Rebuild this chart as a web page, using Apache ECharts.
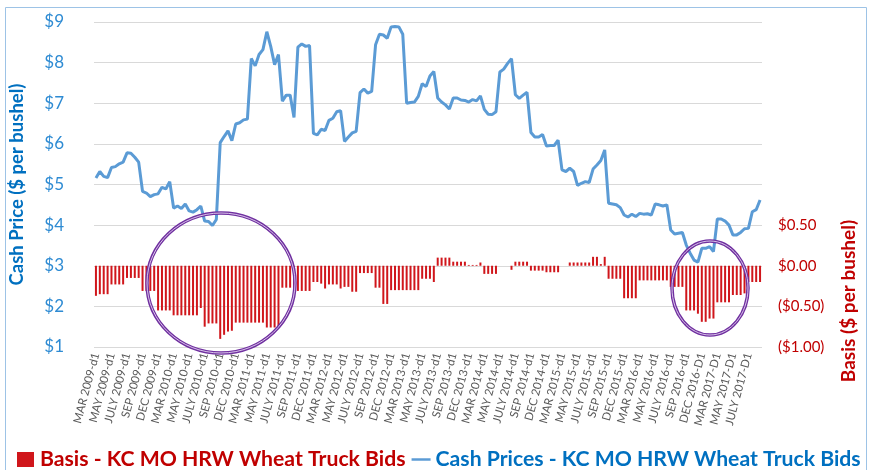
<!DOCTYPE html>
<html><head><meta charset="utf-8">
<script src="https://cdn.jsdelivr.net/npm/echarts@6/dist/echarts.min.js"></script>
<style>html,body{margin:0;padding:0;background:#fff}#c{width:873px;height:470px}</style>
</head><body><div id="c"></div>
<script>
const tickLabels = [
 'MAR 2009-d1','MAY 2009-d1','JULY 2009-d1','SEP 2009-d1','DEC 2009-d1',
 'MAR 2010-d1','MAY 2010-d1','JULY 2010-d1','SEP 2010-d1','DEC 2010-d1',
 'MAR 2011-d1','MAY 2011-d1','JULY 2011-d1','SEP 2011-d1','DEC 2011-d1',
 'MAR 2012-d1','MAY 2012-d1','JULY 2012-d1','SEP 2012-d1','DEC 2012-d1',
 'MAR 2013-d1','MAY 2013-d1','JULY 2013-d1','SEP 2013-d1','DEC 2013-d1',
 'MAR 2014-d1','MAY 2014-d1','JULY 2014-d1','SEP 2014-d1','DEC 2014-d1',
 'MAR 2015-d1','MAY 2015-d1','JULY 2015-d1','SEP 2015-d1','DEC 2015-d1',
 'MAR 2016-d1','MAY 2016-d1','JULY 2016-d1','SEP 2016-d1','DEC 2016-D1',
 'MAR 2017-D1','MAY 2017-D1','JULY 2017-D1'
];
const cashPrices = [
 5.16,5.32,5.20,5.17, 5.42,5.44,5.51,5.55, 5.78,5.77,5.67,5.55, 4.83,4.79,4.70,4.75,
 4.77,4.93,4.89,5.07, 4.42,4.47,4.41,4.52, 4.35,4.32,4.38,4.47, 4.10,4.09,3.99,4.14,
 6.03,6.18,6.32,6.08, 6.49,6.52,6.59,6.61, 8.10,7.92,8.20,8.32, 8.76,8.40,7.95,8.20,
 7.05,7.20,7.20,6.65, 8.38,8.46,8.40,8.42, 6.26,6.22,6.36,6.33, 6.58,6.63,6.79,6.82,
 6.06,6.17,6.27,6.31, 7.26,7.35,7.25,7.29, 8.44,8.70,8.68,8.60, 8.88,8.89,8.88,8.70,
 7.00,7.02,7.03,7.17, 7.48,7.41,7.67,7.78, 7.13,7.03,6.96,6.86, 7.13,7.13,7.08,7.07,
 7.03,7.09,7.06,7.18, 6.85,6.73,6.72,6.79, 7.77,7.84,7.98,8.10, 7.21,7.12,7.20,7.27,
 6.28,6.17,6.17,6.23, 5.95,5.96,5.96,6.09, 5.36,5.32,5.40,5.32, 4.98,5.03,5.07,5.05,
 5.38,5.48,5.59,5.85, 4.54,4.52,4.50,4.43, 4.25,4.20,4.27,4.21, 4.29,4.27,4.28,4.25,
 4.52,4.50,4.47,4.50, 3.88,3.78,3.80,3.82, 3.51,3.31,3.14,3.09, 3.43,3.43,3.47,3.35,
 4.15,4.15,4.10,4.00, 3.76,3.76,3.82,3.91, 3.92,4.33,4.38,4.62
];
const basis = [
 -0.37,-0.35,-0.35,-0.35, -0.23,-0.23,-0.23,-0.23, -0.15,-0.15,-0.15,-0.15, -0.31,-0.31,-0.31,-0.31,
 -0.55,-0.55,-0.55,-0.55, -0.61,-0.61,-0.61,-0.61, -0.61,-0.61,-0.61,-0.52, -0.75,-0.71,-0.71,-0.71,
 -0.90,-0.85,-0.81,-0.80, -0.70,-0.70,-0.70,-0.70, -0.70,-0.70,-0.70,-0.70, -0.76,-0.76,-0.76,-0.76,
 -0.27,-0.27,-0.27,-0.31, -0.31,-0.31,-0.31,-0.31, -0.20,-0.20,-0.22,-0.28, -0.23,-0.23,-0.23,-0.28,
 -0.26,-0.26,-0.32,-0.32, -0.09,-0.09,-0.09,-0.09, -0.27,-0.27,-0.47,-0.47, -0.30,-0.30,-0.30,-0.30,
 -0.30,-0.30,-0.30,-0.30, -0.16,-0.16,-0.16,-0.20, 0.10,0.10,0.10,0.10, 0.05,0.05,0.05,0.05,
 0.01,0.01,0.01,0.04, -0.10,-0.10,-0.10,-0.10, 0,0,0,-0.05, 0.05,0.05,0.05,0.05,
 -0.06,-0.06,-0.06,-0.06, -0.08,-0.08,-0.08,-0.08, 0,0,0.04,0.04, 0.04,0.04,0.04,0.04,
 0.11,0.11,0.02,0.11, -0.16,-0.16,-0.16,-0.16, -0.40,-0.40,-0.40,-0.40, -0.18,-0.18,-0.18,-0.18,
 -0.18,-0.18,-0.18,-0.18, -0.26,-0.26,-0.26,-0.26, -0.55,-0.55,-0.55,-0.59, -0.69,-0.69,-0.65,-0.65,
 -0.45,-0.45,-0.45,-0.45, -0.36,-0.36,-0.36,-0.34, -0.20,-0.20,-0.20,-0.20
];
const basisName = 'Basis - KC MO HRW Wheat Truck Bids';
const cashName = 'Cash Prices - KC MO HRW Wheat Truck Bids';

const categories = [];
tickLabels.forEach(t => { categories.push(t); for (let k = 2; k <= 4; k++) categories.push(t + '#' + k); });

const FONT = 'Lato, "Liberation Sans", sans-serif';
const chart = echarts.init(document.getElementById('c'));
chart.setOption({
  animation: false,
  textStyle: { fontFamily: FONT },
  grid: { left: 93, right: 111, top: 22, bottom: 123 },
  legend: {
    left: 12, top: 444, itemGap: 6, itemWidth: 19, itemHeight: 15,
    textStyle: { fontFamily: FONT, fontSize: 21.2, fontWeight: 'bold' },
    data: [
      { name: basisName, icon: 'path://M0,0H17V15H0Z', textStyle: { color: '#C00000' } },
      { name: cashName, icon: 'path://M0,0H23V3H0Z', textStyle: { color: '#0070C0' } }
    ]
  },
  xAxis: {
    type: 'category', data: categories, boundaryGap: true,
    axisLine: { show: false }, axisTick: { show: false },
    axisLabel: { interval: 3, rotate: 75, fontSize: 11.5, color: '#595959', margin: 6, fontFamily: FONT,
      formatter: v => v.indexOf('#') >= 0 ? '' : v }
  },
  yAxis: [
    { type: 'value', min: 1, max: 9, interval: 1,
      name: 'Cash Price ($ per bushel)', nameLocation: 'middle', nameGap: 67,
      nameTextStyle: { color: '#0070C0', fontSize: 18.5, fontWeight: 'bold', fontFamily: FONT },
      axisLine: { show: false }, axisTick: { show: false },
      axisLabel: { formatter: v => '$' + v, color: '#2E8BD3', fontSize: 17, margin: 30, fontFamily: FONT },
      splitLine: { lineStyle: { color: '#D9D9D9', width: 1 } } },
    { type: 'value', min: -1, max: 3, interval: 0.5, position: 'right',
      axisLine: { show: false }, axisTick: { show: false }, splitLine: { show: false },
      axisLabel: { color: '#C00000', fontSize: 15, margin: 16, fontFamily: FONT,
        formatter: v => v > 0.51 ? '' : (v < 0 ? '($' + Math.abs(v).toFixed(2) + ')' : '$' + v.toFixed(2)) } }
  ],
  series: [
    { name: basisName, type: 'bar', yAxisIndex: 1, data: basis, barWidth: 2,
      itemStyle: { color: '#D0161B' }, z: 2 },
    { name: cashName, type: 'line', yAxisIndex: 0, data: cashPrices, showSymbol: false,
      lineStyle: { color: '#5B9BD5', width: 3 }, itemStyle: { color: '#5B9BD5' }, z: 3 }
  ],
  graphic: [
    { type: 'rect', silent: true, shape: { x: 5.5, y: 7.5, width: 861, height: 480 },
      style: { fill: 'none', stroke: '#9DC3E6', lineWidth: 1 } },
    { type: 'text', silent: true, x: 849, y: 301, rotation: Math.PI / 2,
      style: { text: 'Basis ($ per bushel)', fill: '#C00000', font: 'bold 19px ' + FONT,
        align: 'center', verticalAlign: 'middle' } },
    { type: 'ellipse', silent: true, z: 10, shape: { cx: 221, cy: 283, rx: 74, ry: 70 },
      style: { fill: 'none', stroke: '#7030A0', lineWidth: 3.5 } },
    { type: 'ellipse', silent: true, z: 11, shape: { cx: 221, cy: 283, rx: 74, ry: 70 },
      style: { fill: 'none', stroke: '#D9C4EA', lineWidth: 1 } },
    { type: 'ellipse', silent: true, z: 10, shape: { cx: 710, cy: 288, rx: 38, ry: 47 },
      style: { fill: 'none', stroke: '#7030A0', lineWidth: 3.5 } },
    { type: 'ellipse', silent: true, z: 11, shape: { cx: 710, cy: 288, rx: 38, ry: 47 },
      style: { fill: 'none', stroke: '#D9C4EA', lineWidth: 1 } }
  ]
});
</script></body></html>
